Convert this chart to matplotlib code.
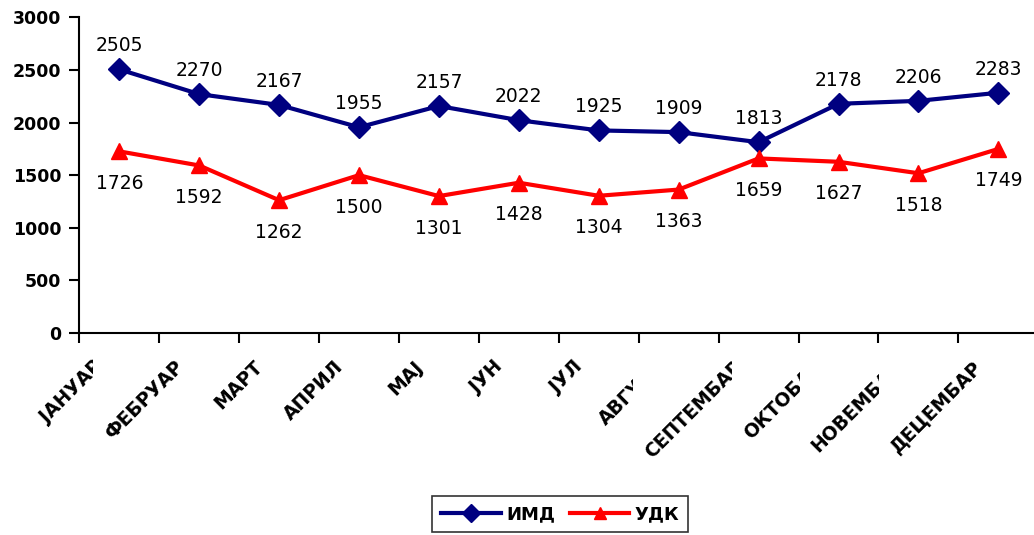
import matplotlib
matplotlib.use("Agg")
import matplotlib.pyplot as plt
import matplotlib.transforms as mtransforms
from matplotlib.lines import Line2D
import numpy as np

plt.rcParams['font.family'] = ['DejaVu Sans']

months = ['ЈАНУАР', 'ФЕБРУАР', 'МАРТ', 'АПРИЛ', 'МАЈ', 'ЈУН', 'ЈУЛ', 'АВГУСТ',
          'СЕПТЕМБАР', 'ОКТОБАР', 'НОВЕМБАР', 'ДЕЦЕМБАР']
imd = [2505, 2270, 2167, 1955, 2157, 2022, 1925, 1909, 1813, 2178, 2206, 2283]
udk = [1726, 1592, 1262, 1500, 1301, 1428, 1304, 1363, 1659, 1627, 1518, 1749]
yticks = [0, 500, 1000, 1500, 2000, 2500, 3000]

fig = plt.figure(figsize=(10.34, 5.35), dpi=100)
ax = fig.add_axes([79.3 / 1034, 1 - 333 / 535, 959 / 1034, 315.7 / 535])

x = np.arange(len(months)) + 0.5
ax.plot(x, imd, color='#000080', lw=3, marker='D', ms=11.5, clip_on=False, zorder=3)
ax.plot(x, udk, color='#ff0000', lw=3, marker='^', ms=11, clip_on=False, zorder=3)

for xi, v in zip(x, imd):
    ax.annotate(str(v), (xi, v), xytext=(0, 17), textcoords='offset points',
                ha='center', va='center', fontsize=13.5)
for xi, v in zip(x, udk):
    ax.annotate(str(v), (xi, v), xytext=(0, -23), textcoords='offset points',
                ha='center', va='center', fontsize=13.5)

ax.set_xlim(0, len(months))
ax.set_ylim(0, 3000)
ax.set_yticks(yticks)
ax.set_yticklabels([str(t) for t in yticks], fontsize=12.5, fontweight='bold')
ax.set_xticks(np.arange(len(months) + 1))
ax.set_xticklabels([])
ax.tick_params(axis='both', direction='out', length=7, width=1.5, color='black')
ax.tick_params(axis='y', pad=6)
for s in ['top', 'right']:
    ax.spines[s].set_visible(False)
for s in ['left', 'bottom']:
    ax.spines[s].set_linewidth(1.5)

# rotated category labels, drawn as text so they can be clipped like the original
trans = mtransforms.offset_copy(
    mtransforms.blended_transform_factory(ax.transData, ax.transAxes),
    fig=fig, x=-19, y=-31, units='dots')
labels = []
for xi, m in zip(x, months):
    t = ax.text(xi, 0, m, transform=trans, rotation=45, rotation_mode='anchor',
                ha='right', va='center', fontsize=13.5, fontweight='bold',
                clip_on=False)
    labels.append(t)

handles = [Line2D([], [], color='#000080', lw=3, marker='D', ms=9),
           Line2D([], [], color='#ff0000', lw=3, marker='^', ms=8)]
leg = fig.legend(handles, ['ИМД', 'УДК'], loc='center', bbox_to_anchor=(0.542, 0.039),
                 ncol=2, frameon=True, fancybox=False, edgecolor='black',
                 prop={'weight': 'bold', 'size': 13}, handlelength=3.3,
                 columnspacing=0.8, handletextpad=0.3, borderpad=0.5)
leg.get_frame().set_linewidth(1.2)

# clip a label where the next one starts (with a small gap), like excel does
fig.canvas.draw()
renderer = fig.canvas.get_renderer()
boxes = [t.get_window_extent(renderer) for t in labels]
gap = 8
for i in range(len(labels) - 1):
    cut = boxes[i + 1].x0 - gap
    if boxes[i].x1 > cut:
        labels[i].set_clip_box(mtransforms.Bbox([[0, 0], [cut, fig.bbox.height]]))
        labels[i].set_clip_on(True)

fig.savefig('out.png', dpi=100)
